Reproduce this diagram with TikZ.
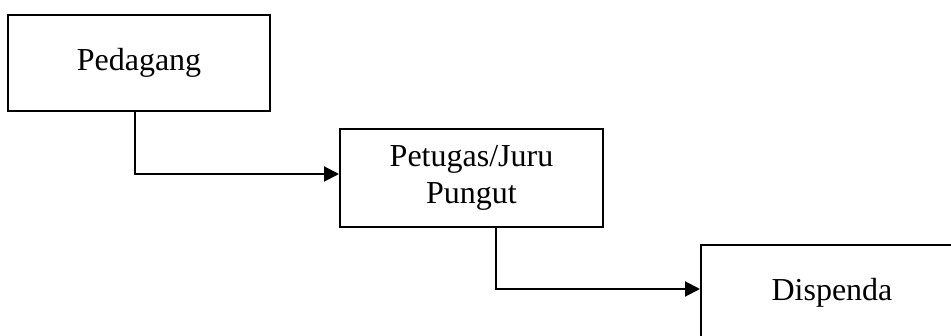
\documentclass[tikz,border=0pt]{standalone}
\usepackage{fontspec}
\setmainfont{Liberation Serif}
\usetikzlibrary{arrows.meta,calc}
\begin{document}
\begin{tikzpicture}[x=1pt,y=-1pt,
  box/.style={draw=black,line width=2pt,rectangle,align=center,inner sep=0pt,
    font=\fontsize{32}{37}\selectfont},
  conn/.style={draw=black,line width=2pt,-{Triangle[length=15pt,width=15pt]}}]
\clip (0,0) rectangle (951,336);
\fill[white] (0,0) rectangle (951,336);
\node[box,minimum width=262pt,minimum height=96pt] (ped) at (139,63) {Pedagang};
\node[box,minimum width=263pt,minimum height=98pt] (pet) at (471.5,178) {Petugas/Juru\\Pungut};
\node[box,minimum width=262pt,minimum height=96pt] (dis) at (832,293) {Dispenda};
\draw[conn] ($(ped.south west)+(128,0)$) |- ([yshift=4pt]pet.west);
\draw[conn] ($(pet.south west)+(157,0)$) |- ([yshift=4pt]dis.west);
\end{tikzpicture}
\end{document}
